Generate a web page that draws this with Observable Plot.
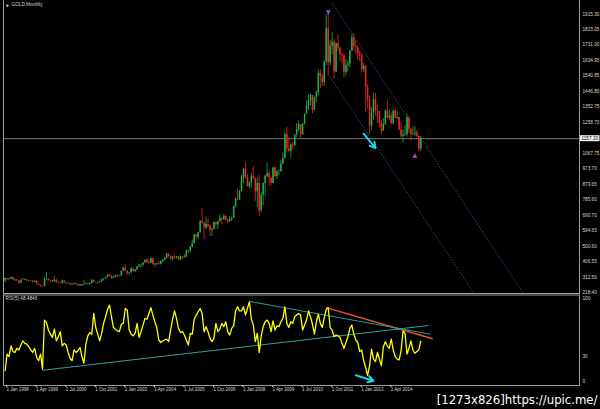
<!DOCTYPE html>
<html><head><meta charset="utf-8">
<script src="https://cdn.jsdelivr.net/npm/d3@7"></script>
<script src="https://cdn.jsdelivr.net/npm/@observablehq/plot@0.6"></script>
<style>
html,body{margin:0;padding:0;background:#000;}
#chart{position:relative;width:600px;height:409px;background:#000;overflow:hidden;}
#chart svg{position:absolute;left:0;}
</style></head><body><div id="chart"></div>
<script>
// ---------- data ----------
const symbolTitle = "GOLD,Monthly";
const rsiTitle = "RSI(5) 48.4846";
const watermark = "[1273x826]https://upic.me/";
const firstMonth = "1998-01";
const firstOpen = 289;
const closes = [
304,297,301,310,294,296,288,273,293,292,294,288,
287,288,280,286,268,261,255,254,299,299,291,290,
283,293,278,275,272,288,276,277,273,264,270,273,
265,267,258,264,267,270,266,273,293,279,275,279,
282,297,302,308,326,318,304,312,323,317,318,347,
368,348,335,337,362,346,354,375,385,386,398,416,
402,397,426,388,393,395,391,408,416,428,453,438,
422,435,428,436,417,437,429,433,473,470,495,517,
569,556,583,654,644,614,633,624,599,604,646,632,
650,672,663,683,659,650,665,673,743,789,783,834,
923,972,917,864,887,926,912,833,884,718,814,884,
928,943,916,884,979,926,955,955,1001,1040,1182,1096,
1081,1118,1113,1180,1213,1244,1181,1248,1307,1357,1386,1421,
1332,1409,1439,1556,1536,1500,1628,1828,1620,1722,1746,1565,
1737,1710,1669,1664,1561,1604,1614,1692,1773,1719,1713,1675,
1663,1578,1597,1472,1393,1234,1312,1395,1327,1323,1253,1202,
1244,1326,1284,1296,1250,1327,1282,1287,1210,1172,1182,1184,
1283,1213,1183,1184,1190,1172,1095,1157];
const highs = [
306,304,302,314,311,300,297,290,301,304,300,297,
292,291,293,289,291,268,262,260,310,338,301,293,
292,316,301,286,280,294,290,282,278,274,272,277,
274,270,270,266,292,276,272,278,296,293,279,280,
285,301,303,311,328,330,322,316,325,326,322,349,
372,389,353,341,372,366,359,377,390,391,400,418,
427,417,430,427,395,398,408,410,417,430,456,456,
443,438,447,439,437,443,437,448,477,478,499,540,
576,574,587,655,730,632,678,665,631,611,649,646,
653,691,670,697,692,670,683,679,745,795,848,842,
934,976,1011,935,895,945,988,915,917,935,829,887,
935,1007,960,917,981,989,960,968,1025,1070,1195,1227,
1163,1127,1136,1180,1249,1265,1244,1251,1307,1388,1424,1431,
1424,1412,1448,1576,1577,1552,1632,1913,1920,1758,1804,1763,
1741,1791,1718,1677,1665,1642,1630,1693,1790,1796,1755,1726,
1694,1681,1617,1605,1487,1417,1348,1434,1434,1361,1321,1267,
1280,1332,1392,1331,1315,1332,1345,1322,1287,1255,1208,1238,
1307,1292,1220,1224,1232,1205,1166,1170];
const lows = [
278,292,291,300,292,285,287,271,273,290,291,285,
283,283,278,277,266,257,251,252,254,291,288,277,
280,282,277,273,270,272,274,269,269,263,262,266,
263,255,256,255,263,265,263,264,270,277,272,271,
277,283,289,299,307,313,301,303,310,311,313,317,
345,345,322,321,337,340,340,353,369,370,373,396,
397,391,395,385,371,383,388,386,397,410,422,430,
415,411,424,423,414,413,418,426,432,458,458,489,
515,540,540,582,636,541,603,611,560,562,599,611,
602,648,635,660,652,639,646,653,671,733,778,781,
833,881,912,864,850,856,910,774,735,681,704,749,
806,918,866,865,882,920,908,931,952,1002,1035,1075,
1074,1044,1088,1112,1164,1196,1155,1176,1242,1316,1330,1357,
1309,1329,1381,1417,1462,1478,1478,1605,1535,1600,1669,1523,
1562,1690,1627,1614,1527,1540,1564,1588,1689,1692,1672,1635,
1626,1555,1562,1321,1338,1180,1206,1270,1292,1251,1221,1182,
1202,1238,1277,1268,1240,1240,1281,1273,1206,1161,1131,1170,
1167,1190,1142,1175,1169,1162,1077,1080];
const rsiValues = [
13,33,30,43,36,35,40,38,44,49,46,45,42,38,35,40,29,25,33,15,
74,71,62,57,53,63,49,54,60,43,46,44,35,28,25,38,35,37,41,30,
22,45,55,59,57,82,65,57,49,58,70,78,87,92,78,65,63,61,60,69,
70,88,86,62,57,55,58,70,53,60,68,76,75,82,89,80,72,65,50,47,
49,50,51,48,62,75,85,76,64,59,60,56,50,44,58,57,75,80,84,88,
82,60,66,60,52,48,52,70,60,63,70,66,72,60,56,64,67,85,90,85,
85,90,80,88,96,75,68,48,58,35,55,66,72,74,70,60,73,62,67,66,
72,76,90,70,65,72,70,78,80,82,
80,62,68,74,85,78,69,57,72,81,70,65,77,87,89,65,62,54,56,55,
53,46,40,47,54,64,68,57,50,47,36,38,25,17,7,19,39,27,24,35,
27,19,42,48,43,40,51,38,30,27,26,37,61,58,33,40,49,38,34,36,38,48.4846];
const priceTickLabels = ["1915.30","1823.05","1731.00","1634.95","1540.85","1446.80","1352.75","1258.70",
  "1067.75","973.70","879.65","785.60","690.70","594.65","500.60","406.55","312.50","218.40"];
const currentPrice = 1157.2;
const currentPriceLabel = "1157.20";
const rsiTickLabels = ["100","30","0"];
const timeTickMonths = ["1998-01","1999-04","2000-07","2001-10","2003-01","2004-04","2005-07",
  "2006-10","2008-01","2009-04","2010-07","2011-10","2013-01","2014-04"];
const timeTickLabels = ["1 Jan 1998","1 Apr 1999","1 Jul 2000","1 Oct 2001","1 Jan 2003","1 Apr 2004","1 Jul 2005",
  "1 Oct 2006","1 Jan 2008","1 Apr 2009","1 Jul 2010","1 Oct 2011","1 Jan 2013","1 Apr 2014"];
// drawn objects (month, value)
const channelLines = [
  {from: "2011-11", fromV: 1985, to: "2019-12", toV: 212},
  {from: "2011-10", fromV: 1533, to: "2017-11", toV: 212}
];
const priceArrows = [{from: "2013-03", fromV: 1188, to: "2013-09", toV: 1100}];
const priceMarkers = [
  {month: "2011-09", v: 1930, glyph: "▼", color: "#3f7be0"},
  {month: "2015-05", v: 1060, glyph: "▲", color: "#c63cd0"}
];
const rsiLines = [
  {from: "2011-08", fromV: 89, to: "2016-02", toV: 51.5, color: "#e8562a", w: 1.4},
  {from: "2008-05", fromV: 96.5, to: "2016-01", toV: 57, color: "#2f9696", w: 1},
  {from: "1999-08", fromV: 13.5, to: "2015-12", toV: 67.5, color: "#34a0a0", w: 1}
];
const rsiArrows = [{from: "2012-11", fromV: 7.5, to: "2013-08", toV: 0.8}];

// ---------- helpers ----------
const [fy, fm] = firstMonth.split("-").map(Number);
const mi = s => { const [y, m] = s.split("-").map(Number); return (y - fy) * 12 + (m - fm); };
const bars = closes.map((c, i) => ({i, open: i ? closes[i - 1] : firstOpen, close: c, high: highs[i], low: lows[i]}));
const upColor = "#1fb04c", downColor = "#ea2a1c";
const col = d => d.close >= d.open ? upColor : downColor;
const axisColor = "#9c9c9c", textColor = "#d6d6d6";
const fontFamily = "Liberation Sans, Arial, sans-serif";
const xScale = {domain: [0, closes.length - 1], range: [4.6, 420.3], axis: null};
const priceTicks = priceTickLabels.map(Number);
const priceLabelMap = new Map(priceTicks.map((v, k) => [v, priceTickLabels[k]]));
const timeTickIdx = timeTickMonths.map(mi);
const timeLabelMap = new Map(timeTickIdx.map((v, k) => [v, timeTickLabels[k]]));

// ---------- price panel ----------
const priceFig = Plot.plot({
  width: 600, height: 294,
  marginLeft: 3, marginRight: 21, marginTop: 0, marginBottom: 1,
  style: {background: "transparent", fontFamily, fontSize: "4.7px", overflow: "visible"},
  x: xScale,
  y: {domain: [218.4, 1915.3], range: [292, 14], axis: null},
  marks: [
    Plot.frame({anchor: "left", stroke: axisColor}),
    Plot.frame({anchor: "right", stroke: axisColor}),
    Plot.frame({anchor: "bottom", stroke: axisColor}),
    Plot.ruleY([currentPrice], {stroke: "#a8a8a8", strokeWidth: 0.7}),
    Plot.link(channelLines, {x1: d => mi(d.from), y1: "fromV", x2: d => mi(d.to), y2: "toV",
      stroke: "#3c55b0", strokeWidth: 0.9, strokeDasharray: "1.3,1.7", clip: true}),
    Plot.ruleX(bars, {x: "i", y1: "low", y2: "high", stroke: col, strokeWidth: 0.8}),
    Plot.ruleX(bars, {x: "i", y1: "open", y2: "close", stroke: col, strokeWidth: 1.5}),
    Plot.arrow(priceArrows, {x1: d => mi(d.from), y1: "fromV", x2: d => mi(d.to), y2: "toV",
      stroke: "#1fd6e8", strokeWidth: 2, headLength: 5}),
    Plot.text(priceMarkers, {x: d => mi(d.month), y: "v", text: "glyph", fill: "color", fontSize: 6, fontFamily: "DejaVu Sans"}),
    Plot.axisY(priceTicks, {anchor: "right", tickSize: 0, tickPadding: 3, fontSize: 4.7,
      tickFormat: d => priceLabelMap.get(d), color: textColor}),
    Plot.text(["▼"], {frameAnchor: "top-left", dx: 2.5, dy: 4, fontSize: 3.5, fill: "#e0e0e0", fontFamily: "DejaVu Sans"}),
    Plot.text([symbolTitle], {frameAnchor: "top-left", dx: 8, dy: 4, textAnchor: "start", lineAnchor: "middle",
      fontSize: 4.7, fill: textColor})
  ]
});
priceFig.style.top = "0px";
{
  const yc = priceFig.scale("y").apply(currentPrice);
  const svg = d3.select(priceFig);
  svg.append("rect").attr("x", 580).attr("y", yc - 3).attr("width", 19.5).attr("height", 6).attr("fill", "#f2f2f2");
  svg.append("text").attr("x", 581.5).attr("y", yc).attr("dy", "0.35em").attr("font-size", 4.7)
    .attr("font-family", fontFamily).attr("text-anchor", "start").attr("fill", "#000").text(currentPriceLabel);
}

// ---------- RSI panel ----------
const rsiFig = Plot.plot({
  width: 600, height: 115,
  marginLeft: 3, marginRight: 21, marginTop: 0.5, marginBottom: 24,
  style: {background: "transparent", fontFamily, fontSize: "4.7px", overflow: "visible"},
  x: xScale,
  y: {domain: [0, 100], range: [87, 4], axis: null},
  marks: [
    Plot.frame({stroke: axisColor}),
    Plot.link(rsiLines, {x1: d => mi(d.from), y1: "fromV", x2: d => mi(d.to), y2: "toV",
      stroke: "color", strokeWidth: "w", clip: true}),
    Plot.line(rsiValues, {x: (d, i) => i, y: d => d, stroke: "#ffff00", strokeWidth: 1.3}),
    Plot.arrow(rsiArrows, {x1: d => mi(d.from), y1: "fromV", x2: d => mi(d.to), y2: "toV",
      stroke: "#1fd6e8", strokeWidth: 2, headLength: 5}),
    Plot.axisY(rsiTickLabels.map(Number), {anchor: "right", tickSize: 0, tickPadding: 3, fontSize: 4.7,
      tickFormat: d => String(d), color: textColor}),
    Plot.axisX(timeTickIdx, {anchor: "bottom", tickSize: 2, tickPadding: 0.5, textAnchor: "start", dx: 1.5,
      fontSize: 4.5, tickFormat: d => timeLabelMap.get(d), color: textColor}),
    Plot.text([rsiTitle], {frameAnchor: "top-left", dx: 2, dy: 3.5, textAnchor: "start", lineAnchor: "middle",
      fontSize: 4.7, fill: textColor}),
    Plot.text([watermark], {frameAnchor: "bottom-right", dx: 18, dy: 14, textAnchor: "end", lineAnchor: "middle",
      fontSize: 13, fill: "#ffffff", stroke: "#000", strokeWidth: 1.5, paintOrder: "stroke",
      fontFamily: "Liberation Sans Narrow, DejaVu Sans Condensed, Liberation Sans, sans-serif"})
  ]
});
rsiFig.style.top = "294px";

const chart = document.getElementById("chart");
chart.appendChild(priceFig);
chart.appendChild(rsiFig);
</script>
</body></html>
